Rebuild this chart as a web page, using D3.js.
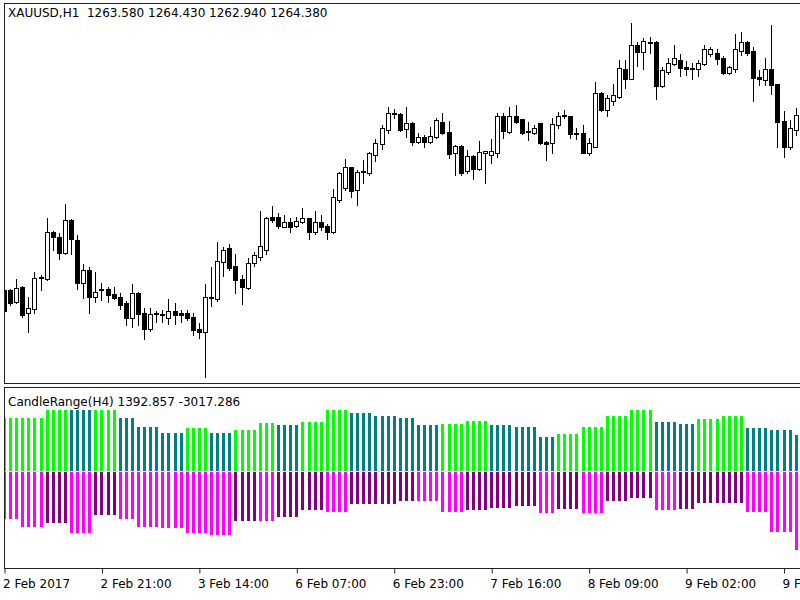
<!DOCTYPE html>
<html>
<head>
<meta charset="utf-8">
<script src="https://cdn.jsdelivr.net/npm/d3@7/dist/d3.min.js"></script>
<style>
  html, body { margin: 0; padding: 0; background: #fff; }
  svg { display: block; }
  text { font-family: "DejaVu Sans", Verdana, sans-serif; font-size: 12px; fill: #000; }
</style>
</head>
<body>
<svg id="chart" width="800" height="600"></svg>
<script>
// ---------------- DATA ----------------
const symbolTitle = "XAUUSD,H1  1263.580 1264.430 1262.940 1264.380";
const indicatorTitle = "CandleRange(H4) 1392.857 -3017.286";

const openP = [1217.90,1217.90,1216.70,1218.17,1215.57,1215.97,1219.13,1219.00,1223.73,1223.23,
1221.63,1224.90,1222.90,1218.57,1219.90,1217.23,1217.90,1217.97,1217.47,1217.23,
1216.57,1215.07,1217.63,1215.63,1213.97,1215.50,1215.40,1215.13,1215.80,1215.63,
1215.63,1215.23,1213.97,1213.73,1217.10,1216.97,1220.73,1222.07,1220.30,1218.97,
1218.07,1220.57,1221.17,1221.90,1225.23,1225.23,1224.23,1224.73,1224.30,1224.67,
1225.07,1223.67,1224.73,1224.30,1223.67,1226.90,1228.07,1230.17,1227.90,1229.70,
1229.57,1231.40,1232.50,1233.90,1235.50,1235.47,1233.97,1234.63,1232.73,1233.23,
1232.73,1233.17,1234.73,1233.73,1231.57,1232.30,1229.83,1231.30,1229.97,1231.63,
1231.40,1231.63,1235.30,1233.73,1235.30,1234.97,1233.83,1233.57,1234.57,1232.73,
1232.63,1234.40,1235.33,1235.30,1233.60,1233.57,1231.63,1232.23,1237.57,1235.90,
1236.83,1237.17,1239.97,1238.97,1242.40,1241.73,1242.63,1242.73,1238.30,1239.73,
1240.50,1240.90,1240.17,1240.07,1239.97,1240.50,1241.50,1241.57,1241.07,1239.57,
1239.97,1241.83,1242.67,1241.83,1239.17,1238.90,1239.97,1238.50,1234.83,1232.17,
1233.90];

const highP = [1218.10,1218.00,1219.00,1218.30,1217.17,1219.73,1219.40,1225.07,1223.83,1223.63,
1226.47,1225.00,1223.40,1220.47,1220.17,1219.73,1218.57,1218.17,1218.23,1217.57,
1216.83,1218.50,1217.73,1216.07,1216.07,1215.83,1215.90,1216.97,1216.57,1215.90,
1215.90,1215.57,1214.57,1218.50,1220.17,1222.73,1222.23,1222.47,1221.50,1219.40,
1221.07,1221.73,1225.83,1225.20,1226.30,1225.63,1225.40,1225.07,1225.23,1226.07,
1225.10,1225.83,1225.40,1224.50,1227.97,1229.70,1230.97,1230.23,1229.90,1230.90,
1231.73,1232.97,1234.40,1236.17,1236.00,1235.57,1236.17,1234.70,1233.63,1233.40,
1234.17,1235.07,1235.57,1234.83,1232.40,1232.40,1231.90,1231.40,1232.83,1231.83,
1232.97,1235.57,1235.57,1236.17,1236.40,1235.00,1234.73,1234.40,1234.60,1232.80,
1235.07,1235.73,1235.90,1235.33,1234.07,1234.40,1233.07,1238.73,1237.73,1237.40,
1238.50,1240.90,1240.90,1244.57,1242.73,1243.07,1243.17,1242.80,1240.23,1241.07,
1242.40,1241.50,1240.83,1240.57,1240.90,1242.40,1242.17,1241.97,1241.30,1240.30,
1243.50,1243.73,1242.80,1242.17,1239.90,1241.07,1244.40,1238.50,1235.83,1234.90,
1236.13];

const lowP = [1215.70,1216.40,1216.60,1215.20,1213.73,1215.57,1217.90,1218.90,1221.90,1221.00,
1221.50,1221.50,1217.97,1217.07,1215.57,1216.73,1216.90,1216.73,1217.00,1215.97,
1214.40,1214.23,1214.40,1212.97,1213.83,1214.73,1214.73,1214.50,1214.50,1214.73,
1214.90,1213.40,1213.07,1209.23,1216.30,1216.83,1219.30,1219.90,1217.63,1216.50,
1217.97,1220.30,1220.90,1221.50,1224.73,1224.07,1224.17,1223.73,1224.23,1224.63,
1222.97,1223.47,1223.90,1222.97,1223.57,1226.73,1227.90,1227.23,1226.40,1228.57,
1229.40,1230.83,1231.97,1233.63,1235.07,1233.83,1233.23,1232.40,1232.57,1232.17,
1232.63,1233.07,1233.50,1231.07,1229.40,1229.40,1229.57,1228.97,1229.90,1228.63,
1230.63,1231.23,1233.07,1233.63,1234.57,1233.50,1232.90,1233.50,1232.50,1230.90,
1231.63,1234.07,1235.07,1233.07,1232.97,1231.63,1231.40,1232.17,1235.83,1235.30,
1236.40,1237.10,1238.07,1238.97,1240.30,1239.97,1241.63,1236.97,1238.17,1239.50,
1240.40,1239.30,1239.40,1238.97,1239.30,1240.40,1241.30,1240.50,1239.50,1239.47,
1239.73,1241.40,1241.40,1236.83,1238.40,1238.40,1237.50,1232.17,1231.23,1231.97,
1233.40];

const closeP = [1215.80,1216.60,1218.10,1215.40,1216.07,1219.13,1219.20,1223.67,1223.17,1221.57,
1224.90,1222.97,1218.57,1219.90,1217.17,1217.73,1218.00,1217.40,1217.07,1216.40,
1215.07,1217.57,1215.50,1213.97,1215.47,1215.57,1215.47,1215.80,1215.40,1215.40,
1215.07,1213.90,1213.73,1217.17,1217.20,1220.80,1221.90,1220.07,1218.90,1218.17,
1220.63,1221.40,1222.30,1225.07,1224.90,1224.30,1224.73,1224.23,1224.83,1225.07,
1223.73,1224.73,1224.23,1223.73,1227.17,1229.57,1230.23,1227.83,1229.73,1229.80,
1231.57,1232.57,1234.07,1235.57,1235.60,1233.90,1234.63,1232.73,1233.17,1232.73,
1233.30,1234.90,1233.63,1231.50,1232.30,1229.63,1231.30,1229.97,1231.73,1231.77,
1231.80,1235.30,1233.83,1235.30,1234.73,1233.57,1233.73,1234.07,1232.63,1232.50,
1234.47,1235.30,1235.40,1233.50,1233.50,1231.63,1232.57,1237.57,1235.90,1237.07,
1237.40,1240.07,1238.97,1242.40,1241.73,1242.83,1242.73,1238.30,1239.90,1240.63,
1241.07,1240.07,1239.97,1239.97,1240.63,1241.97,1241.97,1240.97,1239.57,1240.17,
1241.97,1242.67,1241.57,1239.07,1239.03,1239.97,1238.40,1234.73,1232.17,1234.07,
1235.40];

// H4 CandleRange indicator: one entry per H4 period, repeated over its H1 bars
const h4BarCount = [3,4,4,4,4,3,4,4,4,4,4,3,4,4,4,4,4,3,4,4,4,4,4,3,4,4,4,4,4,3,4,4,4,4,1];
const h4Up = [2036,2036,2330,2330,2330,2036,1692,1463,1631,1463,1566,1822,1757,1860,2330,2204,2101,2036,
  1757,1807,1921,1757,1692,1287,1402,1692,2101,2330,1860,1807,1975,2101,1631,1566,1392.857];
const h4Down = [-1845,-2128,-1975,-2380,-1681,-1845,-2128,-2189,-2380,-2445,-1910,-1899,-1746,-1490,-1555,-1272,
  -1261,-1135,-1135,-1555,-1490,-1425,-1337,-1616,-1440,-1616,-1157,-1031,-1490,-1440,-1211,-1211,-1555,-2319,-3017.286];
// upper buffer: 1 = Lime, 0 = Teal ; lower buffer: 1 = Magenta, 0 = Purple
const h4UpBright = [1,1,1,0,1,0,0,0,1,0,1,1,0,1,1,0,0,0,0,1,1,0,0,0,1,1,1,1,0,0,1,1,0,0,0];
const h4DownBright = [1,1,0,1,0,1,1,1,1,1,0,1,0,0,1,0,0,0,1,1,0,0,0,1,0,1,0,0,1,0,0,0,1,1,1];

const timeTickBars = [0,16,32,48,64,80,96,112,128];
const timeTickLabels = ["2 Feb 2017","2 Feb 21:00","3 Feb 14:00","6 Feb 07:00","6 Feb 23:00",
  "7 Feb 16:00","8 Feb 09:00","9 Feb 02:00","9 Feb 19:00"];

// ---------------- BUILD ----------------
const candles = openP.map((o, i) => ({ i, o, h: highP[i], l: lowP[i], c: closeP[i] }));
const indBars = [];
h4BarCount.forEach((n, g) => {
  for (let k = 0; k < n; k++) {
    indBars.push({ i: indBars.length, up: h4Up[g], down: h4Down[g],
      upColor: h4UpBright[g] ? "#00ff00" : "#008080",
      downColor: h4DownBright[g] ? "#ff00ff" : "#800080" });
  }
});

const svg = d3.select("#chart");
const W = 800;
const mainTop = 3.5, mainBottom = 383.5;
const indTop = 387.5, indBottom = 568.5;
const leftX = 4.5;

const x = d3.scaleLinear().domain([0, 130]).range([4, 795.7]);
const yPrice = d3.scaleLinear().domain([1208.6, 1246.55]).range([383, 3.5]);
const yInd = d3.scaleLinear().domain([-3705, 3190]).range([568, 387.5]);
const px = i => Math.round(x(i));

const defs = svg.append("defs");
defs.append("clipPath").attr("id", "clipMain").append("rect")
  .attr("x", leftX).attr("y", mainTop).attr("width", W).attr("height", mainBottom - mainTop);
defs.append("clipPath").attr("id", "clipInd").append("rect")
  .attr("x", leftX).attr("y", indTop).attr("width", W).attr("height", indBottom - indTop);

svg.append("rect").attr("width", 800).attr("height", 600).attr("fill", "#fff");

// ---- Candles ----
const gMain = svg.append("g").attr("clip-path", "url(#clipMain)");
gMain.selectAll("line.wick").data(candles).join("line")
  .attr("class", "wick")
  .attr("x1", d => px(d.i) + 0.5).attr("x2", d => px(d.i) + 0.5)
  .attr("y1", d => Math.round(yPrice(d.h))).attr("y2", d => Math.round(yPrice(d.l)) + 1)
  .attr("stroke", "#000").attr("stroke-width", 1);
gMain.selectAll("rect.body").data(candles).join("rect")
  .attr("class", "body")
  .attr("x", d => px(d.i) - 1.5)
  .attr("width", 4)
  .attr("y", d => Math.round(yPrice(Math.max(d.o, d.c))) + 0.5)
  .attr("height", d => Math.max(1, Math.round(yPrice(Math.min(d.o, d.c))) - Math.round(yPrice(Math.max(d.o, d.c)))))
  .attr("fill", d => d.c >= d.o ? "#fff" : "#000")
  .attr("stroke", "#000").attr("stroke-width", 1);

// ---- Indicator histogram ----
const gInd = svg.append("g").attr("clip-path", "url(#clipInd)");
const y0 = Math.round(yInd(0));
gInd.selectAll("rect.up").data(indBars).join("rect")
  .attr("class", "up")
  .attr("x", d => px(d.i) - 1).attr("width", 3)
  .attr("y", d => Math.round(yInd(d.up)))
  .attr("height", d => y0 - Math.round(yInd(d.up)))
  .attr("fill", d => d.upColor);
gInd.selectAll("rect.down").data(indBars).join("rect")
  .attr("class", "down")
  .attr("x", d => px(d.i) - 1).attr("width", 3)
  .attr("y", y0 + 1)
  .attr("height", d => Math.round(yInd(d.down)) - y0 - 1)
  .attr("fill", d => d.downColor);
gInd.append("line")
  .attr("x1", leftX).attr("x2", W).attr("y1", y0 + 0.5).attr("y2", y0 + 0.5)
  .attr("stroke", "#c8c8c8").attr("stroke-width", 1).attr("stroke-dasharray", "1,1");

// ---- Window frames ----
svg.append("rect").attr("x", leftX).attr("y", mainTop).attr("width", W).attr("height", mainBottom - mainTop)
  .attr("fill", "none").attr("stroke", "#222").attr("stroke-width", 1);
svg.append("rect").attr("x", leftX).attr("y", indTop).attr("width", W).attr("height", indBottom - indTop)
  .attr("fill", "none").attr("stroke", "#222").attr("stroke-width", 1);

// ---- Titles ----
svg.append("text").attr("x", 8).attr("y", 17).attr("xml:space", "preserve").text(symbolTitle);
svg.append("text").attr("x", 8).attr("y", 406).text(indicatorTitle);

// ---- Time axis ----
const xAxis = d3.axisBottom(x)
  .tickValues(timeTickBars)
  .tickFormat((d, k) => timeTickLabels[k])
  .tickSize(5).tickSizeOuter(0);
const gAxis = svg.append("g").attr("transform", `translate(0.5,${indBottom})`).call(xAxis);
gAxis.select(".domain").remove();
gAxis.selectAll(".tick line").attr("stroke", "#222");
gAxis.selectAll(".tick text")
  .attr("text-anchor", "start").attr("x", -2).attr("y", 19).attr("dy", 0)
  .style("font-family", "'DejaVu Sans', Verdana, sans-serif").style("font-size", "12px").attr("fill", "#000");
</script>
</body>
</html>
